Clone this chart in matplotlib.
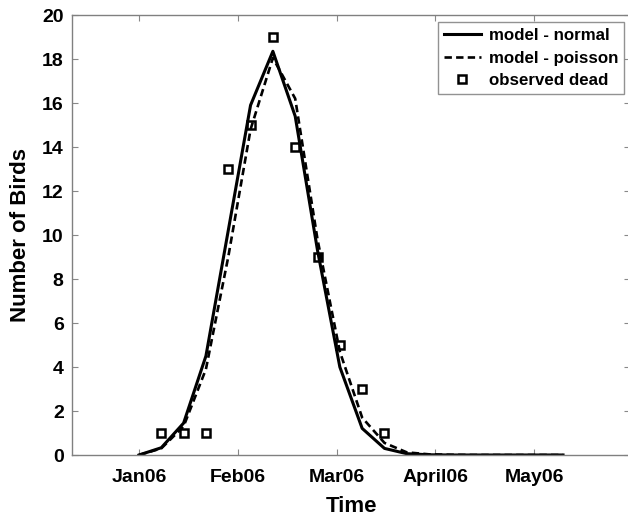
import matplotlib
matplotlib.use("Agg")
import matplotlib.pyplot as plt

# ---- data (days since Jan 1 2006, weekly) ----
model_days = [0, 7, 14, 21, 28, 35, 42, 49, 56, 63, 70, 77, 84, 91, 98, 105, 112, 119, 126, 133]
model_normal = [0, 0.33, 1.45, 4.5, 10.2, 15.9, 18.35, 15.4, 9.3, 4.0, 1.21, 0.3, 0.06, 0.01, 0, 0, 0, 0, 0, 0]
model_poisson = [0, 0.3, 1.3, 3.9, 9.0, 14.8, 18.05, 16.2, 9.8, 4.7, 1.7, 0.55, 0.12, 0.03, 0.01, 0, 0, 0, 0, 0]
obs_days = [7, 14, 21, 28, 35, 42, 49, 56, 63, 70, 77]
obs_dead = [1, 1, 1, 13, 15, 19, 14, 9, 5, 3, 1]
tick_days = [0, 31, 62, 93, 124]
tick_labels = ["Jan06", "Feb06", "Mar06", "April06", "May06"]

plt.rcParams['font.family'] = ['Liberation Sans', 'DejaVu Sans']
plt.rcParams['font.weight'] = 'bold'

fig = plt.figure(figsize=(6.28, 5.16), dpi=100)
ax = fig.add_axes([72/628, 1-455/516, (630-72)/628, (455-15)/516])

ax.plot(model_days, model_normal, color='black', lw=2.2, ls='-', label='model - normal')
ax.plot(model_days, model_poisson, color='black', lw=1.9, ls=(0, (2.8, 1.6)), label='model - poisson')
ax.plot(obs_days, obs_dead, ls='none', marker='s', ms=5.5, mfc='none', mec='black', mew=1.8,
        label='observed dead')

ax.set_xlim(-21, 154)
ax.set_ylim(0, 20)
ax.set_xticks(tick_days)
ax.set_xticklabels(tick_labels)
ax.set_yticks(range(0, 21, 2))

for s in ax.spines.values():
    s.set_color('#808080')
    s.set_linewidth(1.0)
ax.tick_params(direction='in', length=4, width=0.8, color='#888888', top=True, right=True,
               labelsize=14)
ax.tick_params(axis='x', pad=10)
ax.tick_params(axis='y', pad=6)
for lab in ax.get_xticklabels() + ax.get_yticklabels():
    lab.set_fontweight('bold')

ax.set_xlabel('Time', fontsize=16, fontweight='bold')
ax.set_ylabel('Number of Birds', fontsize=16, fontweight='bold')
ax.xaxis.set_label_coords(0.5, (455-496)/440)
ax.yaxis.set_label_coords((31-72)/558, 0.5)

leg = ax.legend(loc='upper right', bbox_to_anchor=((624-72)/558, 1-7/440), fontsize=12.2,
                frameon=True, fancybox=False, handlelength=2.2, handletextpad=0.45,
                borderpad=0.35, labelspacing=0.45, borderaxespad=0)
leg.get_frame().set_edgecolor('#777777')
leg.get_frame().set_linewidth(1.0)
for t in leg.get_texts():
    t.set_fontweight('bold')

fig.savefig('out.png', dpi=100)
